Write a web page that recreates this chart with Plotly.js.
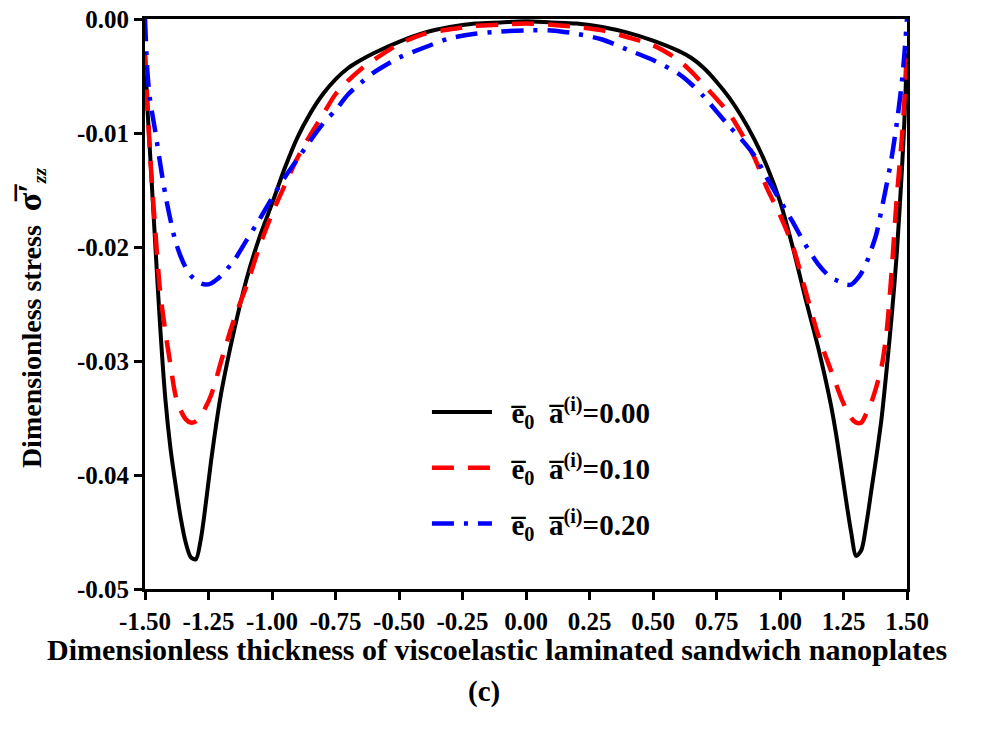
<!DOCTYPE html>
<html><head><meta charset="utf-8">
<script src="https://cdn.plot.ly/plotly-3.0.1.min.js"></script>
<style>html,body{margin:0;padding:0;background:#fff}#chart{width:986px;height:734px}</style>
</head><body><div id="chart"></div>
<script>
// thickness coordinate
const thickness = [-1.5,-1.49,-1.48,-1.46,-1.44,-1.42,-1.40,-1.38,-1.36,-1.34,-1.32,-1.30,-1.28,-1.26,-1.24,-1.22,-1.20,-1.15,-1.10,-1.05,-1.00,-0.95,-0.90,-0.85,-0.80,-0.75,-0.70,-0.65,-0.60,-0.50,-0.40,-0.30,-0.20,-0.10,0,
  0.10,0.20,0.30,0.40,0.50,0.60,0.65,0.70,0.75,0.80,0.85,0.90,0.95,1.00,1.05,1.10,1.15,1.20,1.22,1.24,1.26,1.28,1.30,1.32,1.34,1.36,1.38,1.40,1.42,1.44,1.46,1.48,1.49,1.5];
// e0 a(i) = 0.00
const stress000 = [-0.003,-0.0080,-0.0118,-0.0196,-0.0271,-0.0333,-0.0376,-0.0408,-0.0437,-0.0459,-0.0472,-0.0474,-0.0456,-0.0424,-0.0388,-0.0356,-0.0328,-0.0274,-0.0228,-0.0192,-0.0162,-0.0131,-0.0104,-0.0083,-0.0066,-0.0053,-0.0043,-0.0036,-0.0030,-0.0020,-0.0012,-0.0007,-0.0004,-0.0003,-0.0002,
  -0.0003,-0.0004,-0.0007,-0.0012,-0.0019,-0.0028,-0.0034,-0.0043,-0.0055,-0.0069,-0.0086,-0.0106,-0.0130,-0.0160,-0.0200,-0.0245,-0.0288,-0.0338,-0.0363,-0.0392,-0.0422,-0.0450,-0.0471,-0.0466,-0.0443,-0.0413,-0.0383,-0.0350,-0.0307,-0.0260,-0.0205,-0.0132,-0.0088,-0.003];
// e0 a(i) = 0.10
const stress010 = [-0.003,-0.0076,-0.0119,-0.0184,-0.0240,-0.0274,-0.0303,-0.0330,-0.0343,-0.0351,-0.0354,-0.0353,-0.0348,-0.0340,-0.0330,-0.0316,-0.0300,-0.0264,-0.0234,-0.0200,-0.0171,-0.0146,-0.0122,-0.0102,-0.0084,-0.0066,-0.0054,-0.0044,-0.0036,-0.0022,-0.0013,-0.0009,-0.0006,-0.0005,-0.0004,
  -0.0005,-0.0007,-0.0010,-0.0016,-0.0023,-0.0036,-0.0046,-0.0058,-0.0070,-0.0083,-0.0101,-0.0122,-0.0149,-0.0172,-0.0199,-0.0238,-0.0277,-0.0308,-0.0320,-0.0332,-0.0342,-0.0350,-0.0354,-0.0354,-0.0346,-0.0336,-0.0322,-0.0305,-0.0274,-0.0220,-0.0156,-0.0104,-0.0070,-0.0024];
// e0 a(i) = 0.20
const stress020 = [0,-0.0048,-0.0071,-0.0098,-0.0127,-0.0154,-0.0176,-0.0195,-0.0208,-0.0218,-0.0225,-0.0229,-0.0232,-0.0233,-0.0232,-0.0229,-0.0225,-0.0212,-0.0194,-0.0176,-0.0157,-0.0139,-0.0123,-0.0107,-0.0092,-0.0080,-0.0066,-0.0056,-0.0047,-0.0034,-0.0025,-0.0017,-0.0013,-0.0011,-0.0010,
  -0.0010,-0.0013,-0.0018,-0.0027,-0.0036,-0.0048,-0.0057,-0.0068,-0.0081,-0.0094,-0.0106,-0.0120,-0.0140,-0.0159,-0.0178,-0.0198,-0.0215,-0.0227,-0.0229,-0.0231,-0.0233,-0.0233,-0.0229,-0.0223,-0.0214,-0.0202,-0.0188,-0.0167,-0.0145,-0.0121,-0.0091,-0.0055,-0.0030,0];

const seriesNames = ['\u00A0\u00A0e\u0305<sub>0</sub>  a\u0305<sup>(i)</sup>=0.00','\u00A0\u00A0e\u0305<sub>0</sub>  a\u0305<sup>(i)</sup>=0.10','\u00A0\u00A0e\u0305<sub>0</sub>  a\u0305<sup>(i)</sup>=0.20'];
const xTickVals = [-1.5,-1.25,-1,-0.75,-0.5,-0.25,0,0.25,0.5,0.75,1,1.25,1.5];
const xTickText = ['-1.50','-1.25','-1.00','-0.75','-0.50','-0.25','0.00','0.25','0.50','0.75','1.00','1.25','1.50'];
const yTickVals = [0,-0.01,-0.02,-0.03,-0.04,-0.05];
const yTickText = ['0.00','-0.01','-0.02','-0.03','-0.04','-0.05'];
const xTitle = 'Dimensionless thickness of viscoelastic laminated sandwich nanoplates';
const caption = '(c)';

const FONT = 'Liberation Serif';
const traces = [
  {x: thickness, y: stress000, name: seriesNames[0], legendgroup:'a', mode:'lines', line:{color:'#000000', width:4, shape:'spline', smoothing:0.8}},
  {x: thickness, y: stress010, name: seriesNames[1], legendgroup:'b', mode:'lines', line:{color:'#ff0000', width:4.5, dash:'22px,14px', shape:'spline', smoothing:0.8}},
  {x: thickness, y: stress020, name: seriesNames[2], legendgroup:'c', mode:'lines', line:{color:'#0000ff', width:4.5, dash:'22px,10px,4px,10px', shape:'spline', smoothing:0.8}}
];
const axisCommon = {showline:true, linecolor:'#000', linewidth:3, mirror:true, ticks:'outside', ticklen:8, tickwidth:3, tickcolor:'#000', showgrid:false, zeroline:false,
  tickfont:{family:FONT, size:25, color:'#000', weight:'bold'}};
const layout = {
  width:986, height:734, paper_bgcolor:'#fff', plot_bgcolor:'#fff',
  margin:{l:145, r:79, t:19, b:145},
  font:{family:FONT, color:'#000'},
  xaxis: Object.assign({}, axisCommon, {range:[-1.5,1.5], tickvals:xTickVals, ticktext:xTickText}),
  yaxis: Object.assign({}, axisCommon, {range:[-0.05,0], tickvals:yTickVals, ticktext:yTickText,
    title:{text:'<b>Dimensionless stress  <span style="font-size:34px">\u03C3\u0305\u2032</span><sub><i>zz</i></sub>\u00A0\u00A0\u00A0\u00A0</b>', font:{family:FONT, size:28, color:'#000'}, standoff:28}}),
  showlegend:true,
  legend:{x:0.37, y:0.355, xanchor:'left', yanchor:'top', bgcolor:'rgba(0,0,0,0)', borderwidth:0,
    font:{family:FONT, size:29, color:'#000', weight:'bold'}, tracegroupgap:15, itemwidth:60},
  annotations:[
    {text:'<b>'+xTitle+'</b>', xref:'paper', yref:'paper', x:0.462, y:-0.106, xanchor:'center', yanchor:'middle', showarrow:false, font:{family:FONT, size:30, color:'#000'}},
    {text:'<b>'+caption+'</b>', xref:'paper', yref:'paper', x:0.445, y:-0.148, xanchor:'center', yanchor:'top', showarrow:false, font:{family:FONT, size:29, color:'#000'}}
  ]
};
Plotly.newPlot('chart', traces, layout, {displayModeBar:false, staticPlot:true});
</script></body></html>
